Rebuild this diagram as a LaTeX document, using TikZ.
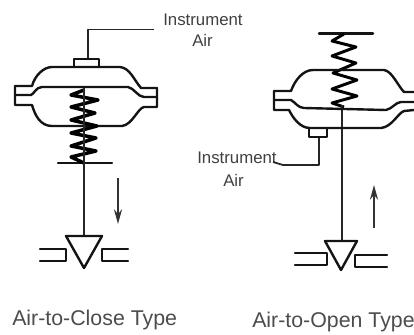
\documentclass[tikz,border=0pt]{standalone}
\usepackage{fontspec}
\setmainfont{Liberation Sans}
\usetikzlibrary{arrows.meta}
\tikzset{
 ln/.style={line width=1.8pt,line join=round,line cap=round,black!92},
 thinln/.style={line width=1.3pt,black!85,line join=round},
 smalltxt/.style={inner sep=0pt,font=\fontsize{12.6pt}{13pt}\selectfont,text=black!75},
 captxt/.style={inner sep=0pt,font=\fontsize{16pt}{17pt}\selectfont,text=black!70},
 motion/.style={line width=1.6pt,black!80,-{Stealth[length=11pt,width=6pt]}},
}
\begin{document}
\begin{tikzpicture}[x=0.75pt,y=-0.75pt]
\useasboundingbox (0,0) rectangle (414,335);
% left actuator
\node[smalltxt,anchor=west] (inst1) at (163,20) {Instrument};
\node[smalltxt,anchor=west] (air1) at (192,40) {Air};
\coordinate (pipe1) at (154,29.5);
\draw[thinln] (pipe1) -| (88,60);
\draw[ln] (74,67) -- (74,59) -- (99,59) -- (99,67);
\draw[ln] (15,86) -- (32,86) .. controls (35,75) and (44,67) .. (52,67) -- (120,67) .. controls (130,68) and (134,80) .. (141,88) -- (157,88);
\draw[ln] (15,95) -- (31,95) .. controls (34,94) and (36,87) .. (42,87) -- (128,87) .. controls (134,88) and (138,97) .. (144,97) -- (157,97);
\draw[ln] (15,86) -- (15,105) -- (32,105) .. controls (35,115) and (40,126) .. (52,126) -- (122,126) .. controls (132,125) and (138,108) .. (144,107) -- (157,107) -- (157,88);
\draw[ln] (58,163) -- (112,163);
\draw[line width=2.6pt,line join=round] (84,90) -- (71,95) -- (98,100) -- (71,107) -- (95,113) -- (71,120) -- (97,126) -- (71,133) -- (96,138) -- (71,146) -- (96,151) -- (71,157) -- (84,163);
\draw[line width=2pt,black!85] (84,88) -- (84,236);
\draw[motion] (118,178) -- (118,224);
\draw[ln] (66,236) -- (102,236) -- (84,268) -- cycle;
\draw[ln] (40,249) -- (66,249) -- (66,261) -- (40,261);
\draw[ln] (128,249) -- (102,249) -- (102,261) -- (128,261);
% right actuator
\node[smalltxt,anchor=west] (inst2) at (197,158) {Instrument};
\node[smalltxt,anchor=west] (air2) at (223,180) {Air};
\coordinate (pipe2) at (283,165);
\draw[thinln] (273,162) -- (pipe2) -- (319,165) -- (319,137);
\draw[ln] (309,128) -- (309,137) -- (327,137) -- (327,128);
\draw[ln] (319,33.5) -- (373,33.5);
\draw[line width=2.2pt,line join=round] (344,34) -- (332,41) -- (356,47) -- (332,56) -- (356,63) -- (333,73) -- (357,80) -- (332,89) -- (357,96) -- (332,103) -- (344,107);
\draw[line width=1.5pt,black!85] (342,105) -- (342,241);
\draw[ln] (274,91) -- (291,91) .. controls (295,80) and (303,70) .. (313,70) -- (384,70) .. controls (392,71) and (398,86) .. (404,92) -- (414,92);
\draw[ln] (274,100) -- (291,100) .. controls (295,102) and (298,108) .. (304,108) -- (386,110) .. controls (392,109) and (396,102) .. (401,102) -- (414,102);
\draw[ln] (274,91) -- (274,110) -- (289,110) .. controls (293,118) and (300,128) .. (310,128) -- (381,128) .. controls (392,127) and (398,113) .. (404,111) -- (414,110);
\draw[motion] (374,228) -- (374,185);
\draw[ln] (325,241) -- (357,241) -- (341,270) -- cycle;
\draw[ln] (295,253) -- (327,253) -- (327,265) -- (295,265);
\draw[ln] (387,255) -- (355,255) -- (355,267) -- (387,267);
% captions
\node[captxt,anchor=west] (cap1) at (12,320) {Air-to-Close Type};
\node[captxt,anchor=west] (cap2) at (252,322) {Air-to-Open Type};
\end{tikzpicture}
\end{document}
